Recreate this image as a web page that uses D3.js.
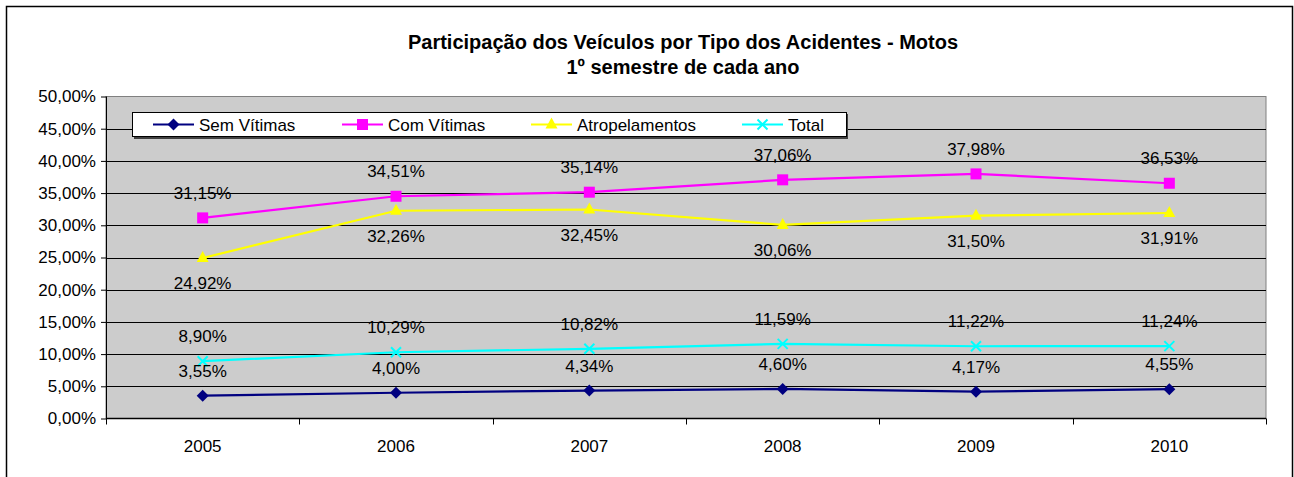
<!DOCTYPE html>
<html>
<head>
<meta charset="utf-8">
<script src="https://cdn.jsdelivr.net/npm/d3@7"></script>
<style>
  body { margin: 0; background: #fff; }
  svg { display: block; font-family: "Liberation Sans", Arial, sans-serif; }
</style>
</head>
<body>
<div id="chart"></div>
<script>
// chart data
const years = ["2005", "2006", "2007", "2008", "2009", "2010"];
const semVitimas = [3.55, 4.00, 4.34, 4.60, 4.17, 4.55];
const comVitimas = [31.15, 34.51, 35.14, 37.06, 37.98, 36.53];
const atropelamentos = [24.92, 32.26, 32.45, 30.06, 31.50, 31.91];
const total = [8.90, 10.29, 10.82, 11.59, 11.22, 11.24];
const yTicks = [0, 5, 10, 15, 20, 25, 30, 35, 40, 45, 50];

const series = [
  { name: "Sem Vítimas", values: semVitimas, color: "#000080", marker: "diamond", labelPos: "above" },
  { name: "Com Vítimas", values: comVitimas, color: "#ff00ff", marker: "square", labelPos: "above" },
  { name: "Atropelamentos", values: atropelamentos, color: "#ffff00", marker: "triangle", labelPos: "below" },
  { name: "Total", values: total, color: "#00ffff", marker: "cross", labelPos: "above" }
];

const width = 1294, height = 477;
const plot = { left: 106, top: 96.5, right: 1266, bottom: 418.5 };

const fmt = v => v.toFixed(2).replace(".", ",") + "%";

const svg = d3.select("#chart").append("svg")
    .attr("width", width)
    .attr("height", height);

// outer chart border
svg.append("rect")
    .attr("x", 6.5).attr("y", 6.5)
    .attr("width", 1286).attr("height", 480)
    .attr("fill", "#fff")
    .attr("stroke", "#000")
    .attr("stroke-width", 1.5);

// title
const title = svg.append("text")
    .attr("text-anchor", "middle")
    .attr("font-weight", "bold")
    .attr("font-size", 20)
    .attr("fill", "#000");
title.append("tspan").attr("x", 683).attr("y", 49)
    .text("Participação dos Veículos por Tipo dos Acidentes - Motos");
title.append("tspan").attr("x", 683).attr("y", 74)
    .text("1º semestre de cada ano");

const x = d3.scaleBand().domain(years).range([plot.left, plot.right]);
const y = d3.scaleLinear().domain([0, 50]).range([plot.bottom, plot.top]);

// plot area
svg.append("rect")
    .attr("x", plot.left).attr("y", plot.top)
    .attr("width", plot.right - plot.left).attr("height", plot.bottom - plot.top)
    .attr("fill", "#cccccc")
    .attr("stroke", "#808080")
    .attr("stroke-width", 1);

// gridlines
svg.append("g")
  .selectAll("line")
  .data(yTicks.filter(d => d > 0 && d < 50))
  .join("line")
    .attr("x1", plot.left).attr("x2", plot.right)
    .attr("y1", d => Math.round(y(d)) + 0.5).attr("y2", d => Math.round(y(d)) + 0.5)
    .attr("stroke", "#000")
    .attr("stroke-width", 1);

// y axis
const yAxis = svg.append("g")
    .attr("transform", `translate(${plot.left},0)`)
    .call(d3.axisLeft(y).tickValues(yTicks).tickSize(5).tickPadding(5).tickFormat(fmt));
yAxis.select(".domain").attr("stroke", "#000").attr("d", `M0.5,${plot.top}V${plot.bottom}`);
yAxis.selectAll(".tick line").attr("stroke", "#000");
yAxis.selectAll(".tick text")
    .attr("font-size", 17).attr("fill", "#000")
    .attr("font-family", "Liberation Sans, Arial, sans-serif");

// x axis
const xAxis = svg.append("g")
    .attr("transform", `translate(0,${plot.bottom})`)
    .call(d3.axisBottom(x).tickSize(0).tickPadding(21));
xAxis.select(".domain").attr("stroke", "#000").attr("stroke-width", 1.5).attr("d", `M${plot.left},0H${plot.right}`);
xAxis.selectAll(".tick text")
    .attr("font-size", 17).attr("fill", "#000")
    .attr("font-family", "Liberation Sans, Arial, sans-serif");
// category boundary ticks
svg.append("g")
  .selectAll("line")
  .data(d3.range(years.length + 1))
  .join("line")
    .attr("x1", i => Math.round(plot.left + i * x.bandwidth()) + 0.5)
    .attr("x2", i => Math.round(plot.left + i * x.bandwidth()) + 0.5)
    .attr("y1", plot.bottom).attr("y2", plot.bottom + 6)
    .attr("stroke", "#000");

// lines, markers and labels
const cx = (d, i) => x(years[i]) + x.bandwidth() / 2;

function drawMarker(g, type, color) {
  if (type === "diamond") {
    g.append("path").attr("d", "M0,-6L6,0L0,6L-6,0Z").attr("fill", color);
  } else if (type === "square") {
    g.append("rect").attr("x", -5.5).attr("y", -5.5).attr("width", 11).attr("height", 11).attr("fill", color);
  } else if (type === "triangle") {
    g.append("path").attr("d", "M0,-7L6,4L-6,4Z").attr("fill", color);
  } else if (type === "cross") {
    g.append("path").attr("d", "M-5,-5L5,5M-5,5L5,-5").attr("stroke", color).attr("stroke-width", 2);
  }
}

const line = d3.line().x(cx).y(d => y(d));

series.forEach(s => {
  svg.append("path")
      .datum(s.values)
      .attr("fill", "none")
      .attr("stroke", s.color)
      .attr("stroke-width", 2.2)
      .attr("d", line);
});

series.forEach(s => {
  s.values.forEach((v, i) => {
    const g = svg.append("g").attr("transform", `translate(${cx(v, i)},${y(v)})`);
    drawMarker(g, s.marker, s.color);
  });
});

series.forEach(s => {
  svg.append("g")
    .selectAll("text")
    .data(s.values)
    .join("text")
      .attr("x", cx)
      .attr("y", d => y(d) + (s.labelPos === "above" ? -19 : 31))
      .attr("text-anchor", "middle")
      .attr("font-size", 17)
      .attr("fill", "#000")
      .text(fmt);
});

// legend
const legend = svg.append("g");
legend.append("rect")
    .attr("x", 134).attr("y", 114).attr("width", 714).attr("height", 25)
    .attr("fill", "#404040");
legend.append("rect")
    .attr("x", 132.5).attr("y", 112.5).attr("width", 714).attr("height", 24)
    .attr("fill", "#fff")
    .attr("stroke", "#000");
const legendX = [153, 342, 531, 742];
series.forEach((s, i) => {
  const lg = legend.append("g").attr("transform", `translate(${legendX[i]},124.5)`);
  lg.append("line").attr("x1", 0).attr("x2", 41).attr("stroke", s.color).attr("stroke-width", 2);
  const m = lg.append("g").attr("transform", "translate(20.5,0)");
  drawMarker(m, s.marker, s.color);
  lg.append("text").attr("x", 46).attr("y", 6).attr("font-size", 17).attr("fill", "#000").text(s.name);
});
</script>
</body>
</html>
